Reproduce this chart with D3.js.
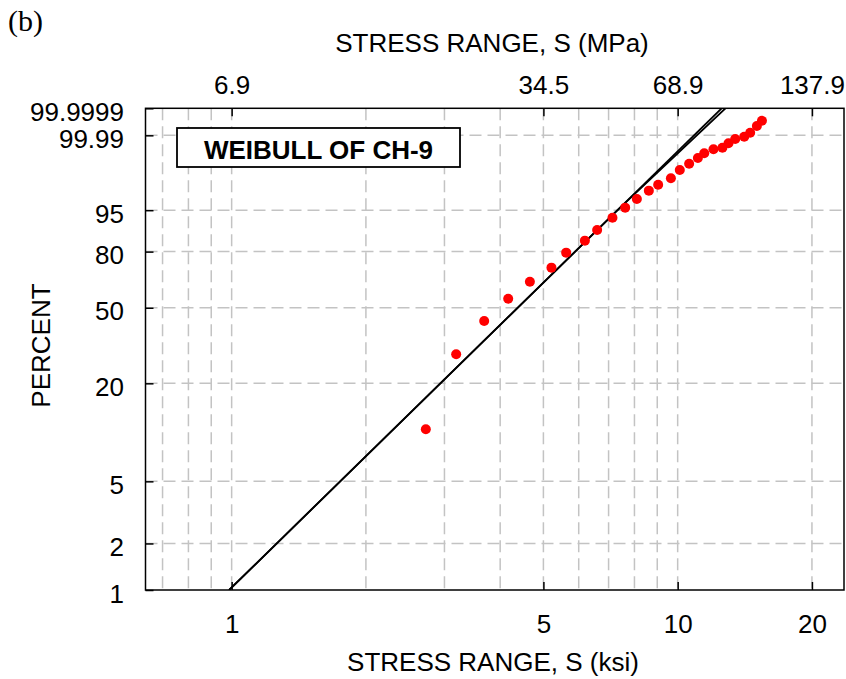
<!DOCTYPE html>
<html>
<head>
<meta charset="utf-8">
<script src="https://cdn.jsdelivr.net/npm/d3@7"></script>
<style>
  html, body { margin: 0; padding: 0; background: #fff; }
  svg { display: block; }
</style>
</head>
<body>
<svg id="chart" width="846" height="679"></svg>
<script>
// ---------- data ----------
const stressKsi = [2.725, 3.187, 3.683, 4.169, 4.663, 5.212, 5.623, 6.194, 6.599, 7.142,
                   7.626, 8.100, 8.617, 9.042, 9.656, 10.11, 10.61, 11.10, 11.47, 12.03,
                   12.60, 13.00, 13.46, 14.10, 14.54, 15.05, 15.45];
const percentFailed = [10.6, 29.2, 43.4, 54.8, 64.1, 71.8, 79.5, 85.0, 89.2, 93.1,
                       95.55, 97.11, 98.20, 98.76, 99.21, 99.58, 99.757, 99.858, 99.912, 99.943,
                       99.9525, 99.972, 99.9836, 99.988, 99.9931, 99.9975, 99.99896];
// two near-identical fitted Weibull lines
const fitA_ksi = [0.987, 12.55];
const fitA_pct = [1, 99.9999];
const fitB_ksi = [0.987, 7.33, 12.80];
const fitB_pct = [1, 95, 99.9999];

const ksiTicks = [1, 5, 10, 20];
const ksiTickLabels = ["1", "5", "10", "20"];
const mpaTickKsi = [1, 5, 10, 20];
const mpaTickLabels = ["6.9", "34.5", "68.9", "137.9"];
const ksiGrid = [0.7, 0.8, 0.9, 1, 2, 3, 4, 5, 6, 7, 8, 9, 10, 20];
const pctTicks = [1, 2, 5, 20, 50, 80, 95, 99.99, 99.9999];
const pctTickLabels = ["1", "2", "5", "20", "50", "80", "95", "99.99", "99.9999"];
const pctGrid = [2, 5, 20, 50, 80, 95, 99.99];
const xDomain = [0.641, 23.6];
const pctDomain = [1, 99.9999];

const titleText = "WEIBULL OF CH-9";
const panelLabel = "(b)";
const xTitleBottom = "STRESS RANGE, S (ksi)";
const xTitleTop = "STRESS RANGE, S (MPa)";
const yTitle = "PERCENT";

// ---------- layout ----------
const L = 145.5, R = 844, T = 108.3, B = 590;
const FONT = "'Liberation Sans', Arial, Helvetica, sans-serif";

const svg = d3.select("#chart");
svg.append("rect").attr("width", 846).attr("height", 679).attr("fill", "#fff");

const x = d3.scaleLog().domain(xDomain).range([L, R]);
const weib = p => Math.log(-Math.log(1 - p / 100));
const yLin = d3.scaleLinear().domain(pctDomain.map(weib)).range([B, T]);
const y = p => yLin(weib(p));

// grid
const grid = svg.append("g").attr("stroke", "#c3c3c3").attr("stroke-width", 1.5)
  .attr("stroke-dasharray", "12,6").attr("fill", "none");
grid.selectAll("line.v").data(ksiGrid).join("line").attr("class", "v")
  .attr("x1", d => x(d)).attr("x2", d => x(d)).attr("y1", T).attr("y2", B);
grid.selectAll("line.h").data(pctGrid).join("line").attr("class", "h")
  .attr("y1", d => y(d)).attr("y2", d => y(d)).attr("x1", L).attr("x2", R);

// clip for lines
svg.append("clipPath").attr("id", "clip").append("rect")
  .attr("x", L).attr("y", T).attr("width", R - L).attr("height", B - T);

const line = d3.line().x(d => x(d[0])).y(d => y(d[1]));
const plot = svg.append("g").attr("clip-path", "url(#clip)");
plot.append("path").datum(d3.zip(fitA_ksi, fitA_pct)).attr("d", line)
  .attr("fill", "none").attr("stroke", "#000").attr("stroke-width", 1.8);
plot.append("path").datum(d3.zip(fitB_ksi, fitB_pct)).attr("d", line)
  .attr("fill", "none").attr("stroke", "#000").attr("stroke-width", 1.8);

// points
svg.append("g").selectAll("circle").data(d3.zip(stressKsi, percentFailed)).join("circle")
  .attr("cx", d => x(d[0])).attr("cy", d => y(d[1])).attr("r", 5).attr("fill", "#ff0000");

// axes (inward ticks)
const axB = d3.axisBottom(x).tickValues(ksiTicks).tickSize(-8).tickFormat((d, i) => ksiTickLabels[i]);
const gB = svg.append("g").attr("transform", `translate(0,${B})`).call(axB);
gB.selectAll("text").attr("y", 43).attr("dy", null);

const axT = d3.axisTop(x).tickValues(mpaTickKsi).tickSize(-8).tickFormat((d, i) => mpaTickLabels[i]);
const gT = svg.append("g").attr("transform", `translate(0,${T})`).call(axT);
gT.selectAll("text").attr("y", -14).attr("dy", null);

const yAxisScale = d3.scaleLinear().domain(yLin.domain()).range(yLin.range());
const axL = d3.axisLeft(yAxisScale).tickValues(pctTicks.map(weib)).tickSize(-8)
  .tickFormat((d, i) => pctTickLabels[i]);
const gL = svg.append("g").attr("transform", `translate(${L},0)`).call(axL);
gL.selectAll("text").attr("x", -21.5).attr("dy", null).attr("y", 12.2);

[gB, gT, gL].forEach(g => {
  g.select(".domain").remove();
  g.selectAll(".tick line").attr("stroke", "#000").attr("stroke-width", 1.5);
  g.selectAll("text").attr("font-family", FONT).attr("font-size", 26).attr("fill", "#000");
});

// frame
svg.append("rect").attr("x", L).attr("y", T).attr("width", R - L).attr("height", B - T)
  .attr("fill", "none").attr("stroke", "#000").attr("stroke-width", 1.5);

// title box
svg.append("rect").attr("x", 177).attr("y", 128).attr("width", 283).attr("height", 39)
  .attr("fill", "#fff").attr("stroke", "#000").attr("stroke-width", 1.8);
svg.append("text").attr("x", 318.5).attr("y", 159).attr("text-anchor", "middle")
  .attr("font-family", FONT).attr("font-weight", "bold").attr("font-size", 26).text(titleText);

// titles
svg.append("text").attr("x", 492).attr("y", 52).attr("text-anchor", "middle")
  .attr("font-family", FONT).attr("font-size", 26).text(xTitleTop);
svg.append("text").attr("x", 493).attr("y", 671).attr("text-anchor", "middle")
  .attr("font-family", FONT).attr("font-size", 26).text(xTitleBottom);
svg.append("text").attr("transform", "translate(50,345.5) rotate(-90)").attr("text-anchor", "middle")
  .attr("font-family", FONT).attr("font-size", 26).text(yTitle);
svg.append("text").attr("x", 8).attr("y", 31)
  .attr("font-family", "'Liberation Serif', 'Times New Roman', serif").attr("font-size", 30).text(panelLabel);
</script>
</body>
</html>
